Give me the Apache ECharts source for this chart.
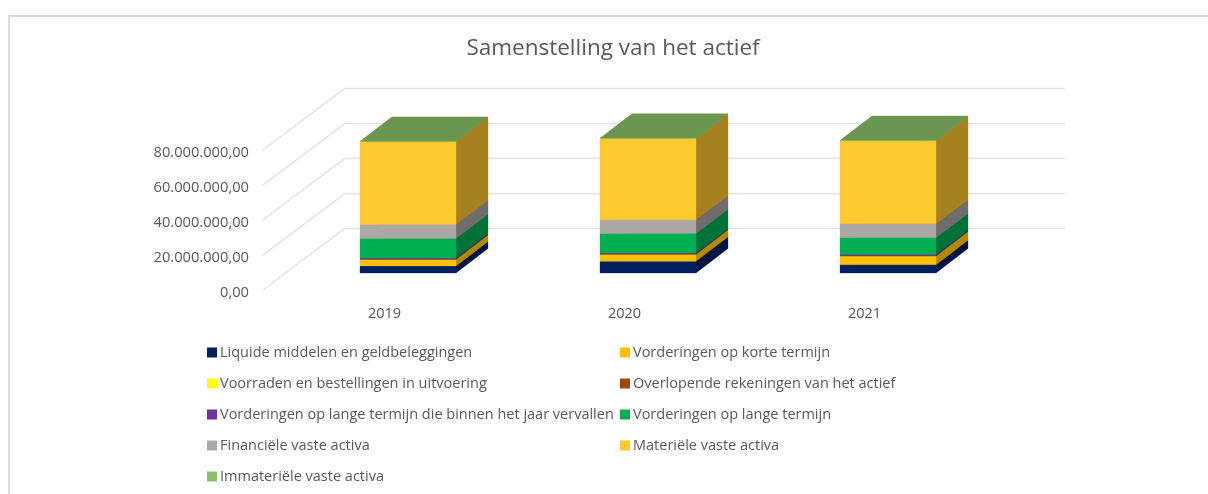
<!DOCTYPE html>
<html>
<head>
<meta charset="utf-8">
<title>Samenstelling van het actief</title>
<script src="https://cdn.jsdelivr.net/npm/echarts@6/dist/echarts.min.js"></script>
<style>html,body{margin:0;padding:0;background:#fff}#c{width:1208px;height:494px}</style>
</head>
<body>
<div id="c"></div>
<script>
const years = ['2019', '2020', '2021'];
const yTicks = [0, 20000000, 40000000, 60000000, 80000000];

const liquide = [4000000, 6650000, 4750000];
const korteTermijn = [3800000, 4000000, 5000000];
const voorraden = [30000, 30000, 30000];
const overlopende = [80000, 120000, 80000];
const langeBinnenJaar = [600000, 600000, 650000];
const langeTermijn = [11200000, 11200000, 9700000];
const financieel = [8000000, 7800000, 8000000];
const materieel = [47400000, 46500000, 47400000];
const immaterieel = [60000, 60000, 60000];

const names = [
  'Liquide middelen en geldbeleggingen', 'Vorderingen op korte termijn',
  'Voorraden en bestellingen in uitvoering', 'Overlopende rekeningen van het actief',
  'Vorderingen op lange termijn die binnen het jaar vervallen', 'Vorderingen op lange termijn',
  'Financiële vaste activa', 'Materiële vaste activa', 'Immateriële vaste activa'
];
const values = [liquide, korteTermijn, voorraden, overlopende, langeBinnenJaar, langeTermijn, financieel, materieel, immaterieel];
const frontColors = ['#002060', '#FFC000', '#FFFF00', '#9E480E', '#7030A0', '#00B050', '#ABA8A6', '#FFCA2F', '#8CC168'];
const sideColors = ['#001543', '#B38900', '#B3B300', '#6E320A', '#4E2170', '#007238', '#6F6D6C', '#A5821F', '#6B9650'];
const topColors = ['#00183F', '#C49A00', '#CCCC00', '#7E390B', '#5A2680', '#008A3F', '#8A8886', '#C9A028', '#6B9650'];

// Oblique projection of the chart's depth
const FRONT = [25, -17];   // from the axis plane to the bar's front
const DEPTH = [32, -24.5]; // bar's depth
const WALL = [82, -61.5];  // from the axis plane to the back wall

const GRID_COLOR = '#E2E2E2';
const TEXT = '#595959';
const FONT = '"Open Sans", "Noto Sans", sans-serif';

function poly(points, fill) {
  return { type: 'polygon', shape: { points: points }, style: { fill: fill, stroke: fill, lineWidth: 0.3 } };
}

function barSegment(si) {
  return function (params, api) {
    const cat = api.value(0);
    const halfW = api.size([1, 0])[0] * 0.2;
    const a = api.coord([cat, api.value(1)]);
    const b = api.coord([cat, api.value(2)]);
    const xl = a[0] + FRONT[0] - halfW, xr = a[0] + FRONT[0] + halfW;
    const y0 = a[1] + FRONT[1], y1 = b[1] + FRONT[1];
    return {
      type: 'group',
      children: [
        poly([[xl, y1], [xr, y1], [xr + DEPTH[0], y1 + DEPTH[1]], [xl + DEPTH[0], y1 + DEPTH[1]]], topColors[si]),
        poly([[xr, y0], [xr + DEPTH[0], y0 + DEPTH[1]], [xr + DEPTH[0], y1 + DEPTH[1]], [xr, y1]], sideColors[si]),
        poly([[xl, y0], [xr, y0], [xr, y1], [xl, y1]], frontColors[si])
      ]
    };
  };
}

const running = years.map(() => 0);
const barSeries = names.map((name, si) => ({
  type: 'custom',
  name: name,
  itemStyle: { color: frontColors[si] },
  renderItem: barSegment(si),
  encode: { x: 0, y: [1, 2] },
  z: 5 + si,
  silent: true,
  data: years.map((y, ci) => {
    const base = running[ci];
    running[ci] += values[si][ci];
    return [ci, base, running[ci]];
  })
}));

const wallSeries = {
  type: 'custom',
  name: 'raster',
  silent: true,
  z: 1,
  renderItem: function (params, api) {
    const p = api.coord([0, api.value(0)]);
    const w = api.size([1, 0])[0];
    const x0 = p[0] - w / 2, y0 = p[1];
    return {
      type: 'polyline',
      shape: { points: [[x0, y0], [x0 + WALL[0], y0 + WALL[1]], [x0 + WALL[0] + w * years.length, y0 + WALL[1]]] },
      style: { fill: 'none', stroke: GRID_COLOR, lineWidth: 1.3 }
    };
  },
  encode: { y: 0 },
  data: yTicks.map(t => [t])
};

const legendBase = {
  orient: 'vertical',
  icon: 'rect',
  itemWidth: 10,
  itemHeight: 10,
  itemGap: 12,
  padding: 0,
  selectedMode: false,
  textStyle: { color: TEXT, fontFamily: FONT, fontSize: 14.5, padding: [0, 0, 0, -2], lineHeight: 19 }
};

const chart = echarts.init(document.getElementById('c'), null, { renderer: 'canvas' });
chart.setOption({
  animation: false,
  backgroundColor: '#fff',
  title: {
    text: 'Samenstelling van het actief',
    left: 608, top: 32, textAlign: 'center',
    textStyle: { color: TEXT, fontFamily: FONT, fontSize: 22.5, fontWeight: 'normal' }
  },
  graphic: [{
    type: 'polyline',
    shape: { points: [[9, 494], [9, 16], [1208, 16]] },
    style: { fill: 'none', stroke: '#DCDCDC', lineWidth: 2 }
  }],
  grid: { left: 263, top: 150, width: 720, height: 140 },
  xAxis: {
    type: 'category', data: years,
    axisLine: { show: false }, axisTick: { show: false }, splitLine: { show: false },
    axisLabel: { color: TEXT, fontFamily: FONT, fontSize: 14.5, margin: 16, padding: [0, 0, 0, 3] }
  },
  yAxis: {
    type: 'value', min: 0, max: 80000000, interval: 20000000,
    axisLine: { show: false }, axisTick: { show: false }, splitLine: { show: false },
    axisLabel: {
      color: TEXT, fontFamily: FONT, fontSize: 14.7, margin: 14,
      verticalAlign: 'top', lineHeight: 6,
      formatter: v => String(v).replace(/\B(?=(\d{3})+(?!\d))/g, '.') + ',00'
    }
  },
  legend: [
    Object.assign({}, legendBase, { left: 207, top: 343, data: [names[0], names[2], names[4], names[6], names[8]] }),
    Object.assign({}, legendBase, { left: 620, top: 343, data: [names[1], names[3], names[5], names[7]] })
  ],
  series: [wallSeries].concat(barSeries)
});
</script>
</body>
</html>
